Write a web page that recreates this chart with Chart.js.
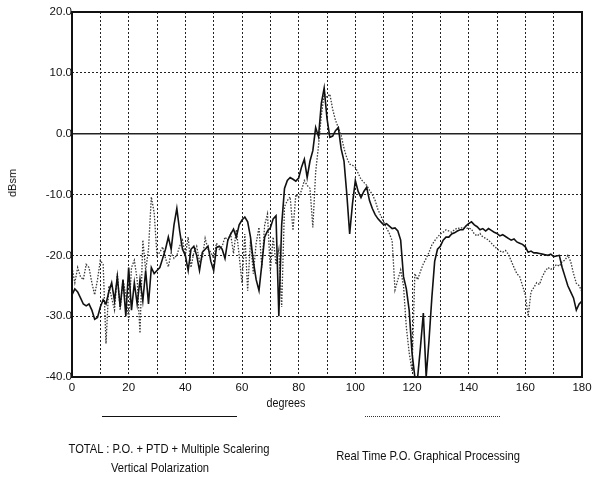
<!DOCTYPE html>
<html>
<head>
<meta charset="utf-8">
<script src="https://cdn.jsdelivr.net/npm/chart.js@4.4.0/dist/chart.umd.min.js"></script>
<style>
  body { margin: 0; background: #fff; color: #111; font-family: "Liberation Sans", Arial, sans-serif; }
  #wrap { position: relative; width: 598px; height: 477px; overflow: hidden; }
  #wrap canvas { position: absolute; left: 0; top: 0; }
  .t { position: absolute; white-space: nowrap; transform: translate(-50%, -50%) scaleX(0.86); font-size: 13px; }
  .ln { position: absolute; height: 0; }
</style>
</head>
<body>
<div id="wrap">
  <canvas id="c" width="598" height="477"></canvas>
  <div class="t" style="left:12px;top:183px;transform:translate(-50%,-50%) rotate(-90deg);font-size:11px">dBsm</div>
  <div class="t" style="left:286px;top:403px;font-size:12.5px">degrees</div>
  <div class="ln" style="left:102px;top:416px;width:135px;border-top:1.6px solid #111"></div>
  <div class="ln" style="left:365px;top:416px;width:135px;border-top:1.4px dotted #333"></div>
  <div class="t" style="left:169px;top:448px">TOTAL : P.O. + PTD + Multiple Scalering</div>
  <div class="t" style="left:160px;top:467px">Vertical Polarization</div>
  <div class="t" style="left:428px;top:455px">Real Time P.O. Graphical Processing</div>
</div>
<script>
// aspect angle, one sample per degree
const DEG = Array.from({ length: 181 }, (_, i) => i);

// TOTAL : P.O. + PTD + Multiple Scattering (solid)
const TOTAL = [
  -26.5, -25.5, -26, -27, -28, -28.3, -28, -29, -30.5, -30.2,
  -28.5, -27.3, -28, -26, -24.5, -27.5, -23.5, -28.5, -24, -30,
  -22, -29, -24.5, -28, -24, -27.5, -22.5, -28, -22, -23,
  -22.5, -22, -20.5, -19, -17, -19, -15, -12.3, -16, -19,
  -20, -22.5, -19, -18.5, -20, -22.5, -19.5, -19, -18.5, -21,
  -22.5, -18.7, -18.5, -19, -20.5, -17.5, -16.5, -15.7, -17, -15,
  -14.2, -13.7, -14.5, -17, -21, -24, -25.8, -21.5, -17, -16,
  -15.5, -14, -13.5, -30, -15, -9, -7.7, -7.2, -7.5, -7.8,
  -7.3, -5.5, -4.2, -7.2, -4.5, -2.8, 1, -0.5, 5, 7.5,
  2.5, -0.6, -0.4, 0.5, 1, -2.5, -4.5, -10, -16.5, -11.5,
  -7.7, -9.5, -10.5, -9.5, -8.8, -11, -12.3, -13.3, -14, -14.5,
  -15, -14.8, -15.2, -15.6, -15.5, -16, -17.5, -23.5, -25.5, -29,
  -36, -40, -40, -35, -29.5, -40, -34, -27, -21, -19,
  -18.5, -17.5, -17, -17, -16.5, -16.3, -16, -15.8, -15.8, -15.2,
  -14.8, -14.5, -15, -15.3, -15.8, -15.6, -16, -15.6, -15.9, -16.2,
  -16.4, -16.8, -16.6, -16.9, -17.2, -17.5, -17.3, -17.8, -18, -18.2,
  -18.6, -19.5, -19.3, -19.6, -19.6, -19.7, -19.8, -19.9, -20, -19.8,
  -20.2, -20.1, -20, -22, -23.5, -25, -26, -27, -29, -28,
  -27.5
];

// Real Time P.O. Graphical Processing (dotted)
const REALTIME = [
  -22, -24.5, -22, -23.5, -24, -21.5, -22, -24.5, -26.5, -24,
  -20.8, -21.5, -34.5, -25, -27, -29, -23, -29, -24, -26.5,
  -30.6, -22, -20.8, -24, -32.8, -17.5, -22.5, -19, -10.4, -13,
  -20, -19.5, -18.6, -20.5, -21.9, -19.6, -20.5, -20, -18.5, -17.5,
  -20, -17, -22, -19.5, -18.5, -21, -20.5, -17.2, -19, -19.5,
  -20.5, -18, -19, -18.5, -17, -17.5, -16.5, -19.7, -15.8, -20,
  -24.6, -16.5, -25.8, -17.5, -23, -18, -15.4, -22, -15, -13.2,
  -22.6, -17, -21.5, -19, -28.5, -12, -11, -10.4, -15.9, -10,
  -10.5, -9.3, -7.7, -8.5, -9, -15.4, -6.3, -2, 3, 6.5,
  6, 6.5, 4, 2.2, 1, -0.3, -2.4, -4, -5, -5.2,
  -5.5, -6.5, -7.5, -8, -8.5, -9.3, -10, -11, -12.5, -13.5,
  -14.5, -15.5, -16.4, -17.6, -25.7, -24, -22.4, -25, -31.8, -36,
  -39, -23, -24, -22.6, -21.4, -20.5, -19.5, -18.3, -17.6, -17,
  -16.5, -16.2, -15.8, -16, -16.2, -15.8, -15.5, -15.6, -15.4, -15.6,
  -15.5, -15.7, -16.5, -16.8, -16.4, -17, -17.2, -17.5, -18, -18.5,
  -18.9, -19.3, -19.5, -19.2, -19.8, -20.9, -22, -23, -23.5, -25,
  -26.5, -30, -26, -25.3, -24.5, -24.8, -23.5, -22.6, -22, -22.3,
  -22, -21.5, -21.8, -21, -20.8, -20, -21, -23, -24.6, -25,
  -26
];

const X_MIN = 0, X_MAX = 180, X_STEP = 10, X_LABEL_STEP = 20;
const Y_MIN = -40, Y_MAX = 20, Y_STEP = 10;

const pts = arr => DEG.map((d, i) => ({ x: d, y: arr[i] }));

const frame = {
  id: 'frame',
  afterDraw(chart) {
    const { ctx, chartArea: a } = chart;
    ctx.save();
    ctx.strokeStyle = '#111';
    ctx.lineWidth = 2;
    ctx.strokeRect(a.left, a.top, a.right - a.left, a.bottom - a.top);
    ctx.restore();
  }
};

const tickFont = { family: "'Liberation Sans', Arial, sans-serif", size: 11.5 };

new Chart(document.getElementById('c'), {
  type: 'line',
  data: {
    datasets: [
      { label: 'TOTAL : P.O. + PTD + Multiple Scalering', data: pts(TOTAL), borderColor: '#111', borderWidth: 1.6, pointRadius: 0, tension: 0 },
      { label: 'Real Time P.O. Graphical Processing', data: pts(REALTIME), borderColor: '#3a3a3a', borderWidth: 1.3, borderDash: [1.5, 1.5], pointRadius: 0, tension: 0 },
    ],
  },
  options: {
    responsive: false, animation: false,
    layout: { padding: { top: 12, right: 16, left: 0, bottom: 0 } },
    plugins: { legend: { display: false }, tooltip: { enabled: false } },
    scales: {
      x: {
        type: 'linear', min: X_MIN, max: X_MAX,
        afterFit: s => { s.height = 100; },
        grid: { color: '#222', lineWidth: 1, drawTicks: false },
        border: { display: false, dash: [2, 2] },
        ticks: { stepSize: X_STEP, autoSkip: false, maxRotation: 0, padding: 4, color: '#111', font: tickFont,
                 callback: v => v % X_LABEL_STEP === 0 ? String(v) : '' },
      },
      y: {
        min: Y_MIN, max: Y_MAX,
        afterFit: s => { s.width = 72; },
        grid: { color: '#222', lineWidth: ctx => ctx.tick && ctx.tick.value === 0 ? 1.6 : 1, drawTicks: false },
        border: { display: false, dash: ctx => ctx.tick && ctx.tick.value === 0 ? [] : [2, 2] },
        ticks: { stepSize: Y_STEP, padding: 0, color: '#111', font: tickFont, callback: v => v.toFixed(1) },
      },
    },
  },
  plugins: [frame],
});
</script>
</body>
</html>
